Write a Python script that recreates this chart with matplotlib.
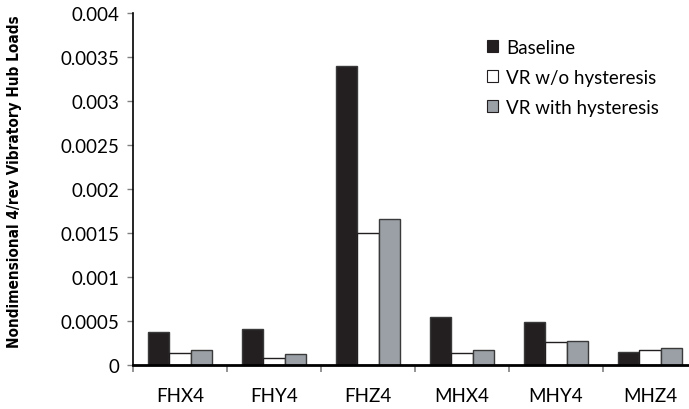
import numpy as np
import matplotlib.pyplot as plt
from matplotlib.patches import Patch

categories = ["FHX4", "FHY4", "FHZ4", "MHX4", "MHY4", "MHZ4"]
baseline = [0.00038, 0.00041, 0.0034, 0.00054, 0.00049, 0.00015]
vr_no_hyst = [0.000135, 0.00008, 0.0015, 0.000135, 0.00026, 0.000165]
vr_hyst = [0.000165, 0.00012, 0.00166, 0.000165, 0.000275, 0.00019]
series_names = ["Baseline", "VR w/o hysteresis", "VR with hysteresis"]
yticks = [0, 0.0005, 0.001, 0.0015, 0.002, 0.0025, 0.003, 0.0035, 0.004]
ytick_labels = ["0", "0.0005", "0.001", "0.0015", "0.002", "0.0025", "0.003", "0.0035", "0.004"]

plt.rcParams['font.family'] = ['Lato', 'DejaVu Sans']

fig = plt.figure(figsize=(6.89, 4.10), dpi=100)
ax = fig.add_axes([133/689, (410-366)/410, (697-133)/689, (366-14)/410])

x = np.arange(len(categories))
w = 0.23
fills = ["#231f20", "white", "#9aa0a6"]
edges = ["#3a3a3a", "#231f20", "#3a3a3a"]
for i, vals in enumerate([baseline, vr_no_hyst, vr_hyst]):
    ax.bar(x + (i - 1) * w, vals, w, color=fills[i], edgecolor=edges[i],
           linewidth=1.0, label=series_names[i], zorder=2)

ax.set_xlim(-0.5, len(categories) - 0.5)
ax.set_ylim(0, 0.004)
ax.set_yticks(yticks)
ax.set_yticklabels(ytick_labels, fontsize=13.5)

ax.set_xticks(np.arange(-0.5, len(categories), 1.0))
ax.set_xticklabels([])
ax.set_xticks(x, minor=True)
ax.set_xticklabels(categories, minor=True, fontsize=13.5)
ax.tick_params(axis='x', which='minor', length=0, pad=16)
ax.tick_params(axis='x', which='major', length=5, width=1.2, color="#808080", direction='out')
ax.tick_params(axis='y', length=4, width=1.0, color="#808080", direction='out', pad=6)

for s in ["top", "right"]:
    ax.spines[s].set_visible(False)
ax.spines["left"].set_linewidth(1.2)
ax.spines["bottom"].set_linewidth(2.0)
ax.spines["bottom"].set_zorder(3)

# condensed bold title on the y axis
ax.set_ylabel("Nondimensional 4/rev Vibratory Hub Loads", family='DejaVu Sans', fontstretch='condensed',
              fontweight='bold', fontsize=11)
ax.yaxis.set_label_coords(-0.196, 0.523)

handles = [Patch(facecolor=fills[i], edgecolor="#231f20", linewidth=0.8) for i in range(3)]
ax.legend(handles, series_names, loc='upper left', bbox_to_anchor=(0.598, 0.975), frameon=False,
          fontsize=13.5, handlelength=0.6, handleheight=0.6, handletextpad=0.4, labelspacing=0.7)

fig.savefig("out.png", dpi=100)
